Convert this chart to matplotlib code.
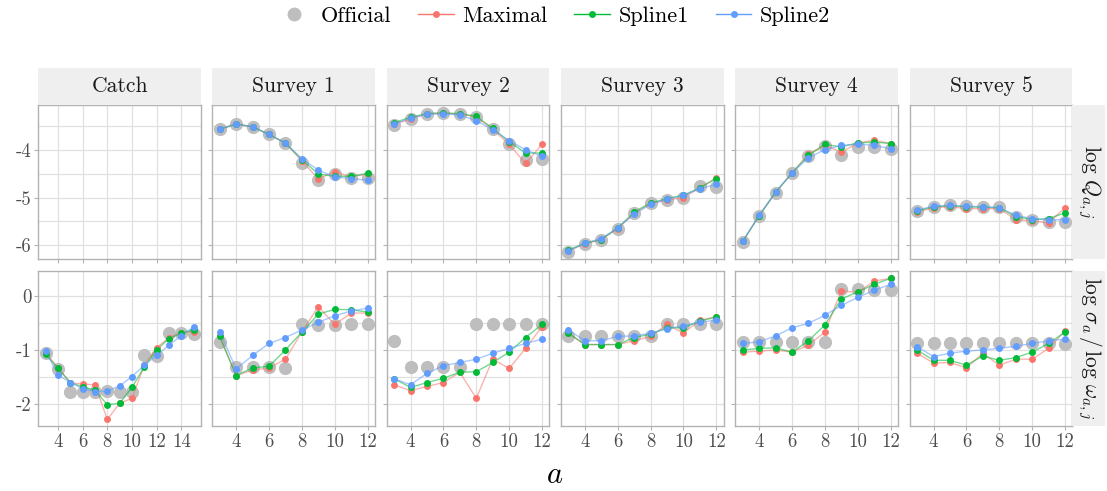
import matplotlib
matplotlib.use("Agg")
import matplotlib.pyplot as plt
from matplotlib.lines import Line2D
from matplotlib.patches import Rectangle

plt.rcParams['font.family'] = 'cmr10'
plt.rcParams['mathtext.fontset'] = 'cm'
plt.rcParams['axes.unicode_minus'] = False
plt.rcParams['axes.formatter.use_mathtext'] = True

# facets
fleets = ["Catch", "Survey 1", "Survey 2", "Survey 3", "Survey 4", "Survey 5"]
methods = ["Official", "Maximal", "Spline1", "Spline2"]
colors = {"Official": "#BEBEBE", "Maximal": "#F8766D", "Spline1": "#00BA38", "Spline2": "#619CFF"}
ages_catch = list(range(3, 16))
ages_survey = list(range(3, 13))

# log Q per survey (rows: Survey 1..5, ages 3..12)
logq_official = [
    [-3.56, -3.45, -3.51, -3.67, -3.85, -4.27, -4.63, -4.50, -4.58, -4.58],
    [-3.47, -3.35, -3.23, -3.22, -3.23, -3.30, -3.56, -3.86, -4.20, -4.18],
    [-6.14, -5.98, -5.88, -5.65, -5.33, -5.12, -5.04, -5.00, -4.76, -4.77],
    [-5.93, -5.39, -4.90, -4.48, -4.13, -3.92, -4.11, -3.94, -3.93, -3.97],
    [-5.28, -5.19, -5.16, -5.18, -5.19, -5.19, -5.40, -5.46, -5.51, -5.51],
]
logq_maximal = [
    [-3.56, -3.45, -3.51, -3.67, -3.85, -4.23, -4.60, -4.46, -4.56, -4.50],
    [-3.45, -3.35, -3.23, -3.22, -3.24, -3.30, -3.56, -3.88, -4.28, -3.88],
    [-6.12, -5.97, -5.88, -5.65, -5.33, -5.12, -5.05, -5.00, -4.79, -4.58],
    [-5.92, -5.38, -4.89, -4.48, -4.08, -3.90, -4.04, -3.85, -3.79, -3.86],
    [-5.30, -5.21, -5.19, -5.23, -5.23, -5.23, -5.46, -5.49, -5.53, -5.21],
]
logq_spline1 = [
    [-3.56, -3.45, -3.51, -3.67, -3.85, -4.20, -4.50, -4.55, -4.55, -4.49],
    [-3.42, -3.31, -3.23, -3.22, -3.23, -3.29, -3.54, -3.82, -4.06, -4.06],
    [-6.10, -5.96, -5.88, -5.64, -5.30, -5.11, -5.02, -4.95, -4.79, -4.60],
    [-5.92, -5.38, -4.89, -4.48, -4.11, -3.88, -3.93, -3.85, -3.83, -3.86],
    [-5.28, -5.19, -5.17, -5.19, -5.20, -5.21, -5.40, -5.46, -5.44, -5.32],
]
logq_spline2 = [
    [-3.56, -3.45, -3.51, -3.67, -3.85, -4.18, -4.42, -4.56, -4.60, -4.63],
    [-3.45, -3.33, -3.24, -3.24, -3.26, -3.38, -3.57, -3.80, -3.99, -4.13],
    [-6.12, -5.96, -5.86, -5.63, -5.35, -5.14, -5.03, -4.95, -4.81, -4.72],
    [-5.92, -5.37, -4.88, -4.48, -4.16, -3.99, -3.90, -3.87, -3.90, -3.97],
    [-5.26, -5.18, -5.16, -5.18, -5.19, -5.21, -5.37, -5.44, -5.47, -5.46],
]

# log sd: catch (ages 3..15)
sd_catch_official = [-1.06, -1.35, -1.78, -1.78, -1.78, -1.76, -1.78, -1.78, -1.09, -1.11, -0.69, -0.69, -0.71]
sd_catch_maximal = [-1.05, -1.33, -1.60, -1.63, -1.64, -2.28, -1.98, -1.89, -1.28, -0.96, -0.77, -0.68, -0.66]
sd_catch_spline1 = [-1.08, -1.34, -1.60, -1.68, -1.74, -2.01, -1.98, -1.69, -1.31, -1.00, -0.79, -0.69, -0.63]
sd_catch_spline2 = [-1.02, -1.46, -1.60, -1.71, -1.77, -1.76, -1.66, -1.49, -1.28, -1.10, -0.91, -0.74, -0.57]

# log sd: surveys (rows: Survey 1..5, ages 3..12)
sd_official = [
    [-0.85, -1.31, -1.31, -1.31, -1.33, -0.53, -0.54, -0.54, -0.53, -0.53],
    [-0.83, -1.31, -1.31, -1.31, -1.31, -0.53, -0.53, -0.53, -0.53, -0.53],
    [-0.75, -0.74, -0.74, -0.74, -0.74, -0.74, -0.53, -0.53, -0.53, -0.53],
    [-0.85, -0.85, -0.86, -0.86, -0.86, -0.86, 0.12, 0.12, 0.10, 0.10],
    [-0.88, -0.88, -0.88, -0.88, -0.88, -0.88, -0.88, -0.88, -0.88, -0.89],
]
sd_maximal = [
    [-0.75, -1.47, -1.37, -1.33, -1.17, -0.67, -0.20, -0.53, -0.32, -0.32],
    [-1.64, -1.75, -1.67, -1.60, -1.41, -1.89, -1.17, -1.34, -0.97, -0.57],
    [-0.69, -0.90, -0.90, -0.90, -0.83, -0.75, -0.53, -0.69, -0.45, -0.39],
    [-1.04, -1.02, -1.00, -1.04, -0.91, -0.67, 0.09, 0.06, 0.27, 0.32],
    [-1.06, -1.24, -1.23, -1.33, -1.06, -1.28, -1.17, -1.17, -0.97, -0.65],
]
sd_spline1 = [
    [-0.75, -1.47, -1.33, -1.30, -1.00, -0.67, -0.34, -0.25, -0.26, -0.30],
    [-1.53, -1.69, -1.60, -1.52, -1.41, -1.40, -1.23, -1.04, -0.77, -0.53],
    [-0.69, -0.90, -0.90, -0.90, -0.77, -0.71, -0.59, -0.59, -0.47, -0.39],
    [-1.00, -0.97, -0.96, -1.04, -0.83, -0.54, -0.06, 0.07, 0.21, 0.32],
    [-1.00, -1.19, -1.19, -1.28, -1.11, -1.19, -1.14, -1.04, -0.88, -0.67],
]
sd_spline2 = [
    [-0.66, -1.35, -1.10, -0.88, -0.77, -0.63, -0.49, -0.37, -0.28, -0.23],
    [-1.53, -1.64, -1.43, -1.29, -1.23, -1.17, -1.06, -0.97, -0.88, -0.80],
    [-0.63, -0.83, -0.83, -0.75, -0.74, -0.69, -0.61, -0.55, -0.49, -0.45],
    [-0.88, -0.85, -0.74, -0.59, -0.51, -0.36, -0.18, -0.03, 0.10, 0.21],
    [-0.94, -1.12, -1.06, -1.02, -1.00, -0.97, -0.93, -0.88, -0.83, -0.80],
]

W, H = 1107, 491
fig = plt.figure(figsize=(W / 100, H / 100), dpi=100)

def fr(x0, y0, x1, y1):
    return [x0 / W, 1 - y1 / H, (x1 - x0) / W, (y1 - y0) / H]

col_left = [38.3, 212.3, 386.7, 561.0, 735.3, 909.7]
pw = 162.7
row_top = [(105, 259), (271, 426)]
border = "#B3B3B3"
grid_c = "#E0E0E0"
strip_c = "#EFEFEF"

def style(ax, xlim, ylim, xt, yt, ym):
    ax.set_xlim(*xlim)
    ax.set_ylim(*ylim)
    ax.set_xticks(xt)
    ax.set_yticks(yt)
    ax.set_yticks(ym, minor=True)
    ax.grid(True, which="major", color=grid_c, lw=0.9)
    ax.grid(True, which="minor", axis="y", color=grid_c, lw=0.9)
    ax.set_axisbelow(True)
    for s in ax.spines.values():
        s.set_color(border)
        s.set_linewidth(1.0)
    ax.tick_params(which="both", color=border, length=3, width=0.8, labelcolor="#4D4D4D", labelsize=13.5, pad=2)
    ax.tick_params(which="minor", length=0)

def draw(ax, ages, series):
    ax.plot(ages, series[0], "o", color=colors["Official"], ms=9.5, mew=0, zorder=2)
    for m, vals in zip(methods[1:], series[1:]):
        ax.plot(ages, vals, "-", color=colors[m], lw=1.0, alpha=0.55, zorder=3)
        ax.plot(ages, vals, "o", color=colors[m], ms=5, mew=0, zorder=4)

for c, name in enumerate(fleets):
    x0 = col_left[c]
    if c == 0:
        ages = ages_catch
        xlim = (2.4, 15.6)
        xt = [4, 6, 8, 10, 12, 14]
    else:
        ages = ages_survey
        xlim = (2.55, 12.45)
        xt = [4, 6, 8, 10, 12]
    # strip
    fig.add_artist(Rectangle((x0 / W, 1 - 104 / H), pw / W, 36 / H, transform=fig.transFigure,
                             facecolor=strip_c, edgecolor="none"))
    fig.text((x0 + pw / 2) / W, 1 - 86 / H, name, ha="center", va="center", fontsize=15.5, color="#1A1A1A")

    # top row: log Q
    ax = fig.add_axes(fr(x0, row_top[0][0], x0 + pw, row_top[0][1]))
    style(ax, xlim, (-6.29, -3.05), xt, [-6, -5, -4], [-5.5, -4.5, -3.5])
    if c > 0:
        i = c - 1
        draw(ax, ages, [logq_official[i], logq_maximal[i], logq_spline1[i], logq_spline2[i]])
    ax.set_xticklabels([])
    if c == 0:
        ax.set_yticklabels(["-6", "-5", "-4"])
    else:
        ax.set_yticklabels([])

    # bottom row: log sd
    ax = fig.add_axes(fr(x0, row_top[1][0], x0 + pw, row_top[1][1]))
    style(ax, xlim, (-2.40, 0.455), xt, [-2, -1, 0], [-1.5, -0.5])
    if c == 0:
        draw(ax, ages, [sd_catch_official, sd_catch_maximal, sd_catch_spline1, sd_catch_spline2])
        ax.set_yticklabels(["-2", "-1", "0"])
    else:
        i = c - 1
        draw(ax, ages, [sd_official[i], sd_maximal[i], sd_spline1[i], sd_spline2[i]])
        ax.set_yticklabels([])
    ax.set_xticklabels([str(t) for t in xt])

# right strips
sx0 = col_left[-1] + pw
for (y0, y1), lab in zip(row_top, [r"$\log\,Q_{a,j}$", r"$\log\,\sigma_a\,/\,\log\,\omega_{a,j}$"]):
    fig.add_artist(Rectangle((sx0 / W, 1 - y1 / H), 33 / W, (y1 - y0) / H, transform=fig.transFigure,
                             facecolor=strip_c, edgecolor="none"))
    fig.text((sx0 + 17) / W, 1 - (y0 + y1) / 2 / H, lab, rotation=270, ha="center", va="center",
             fontsize=15.5, color="#1A1A1A")

fig.text(555 / W, 1 - 475 / H, r"$a$", ha="center", va="center", fontsize=22)

handles = [Line2D([], [], marker="o", ls="none", color=colors["Official"], ms=10, mew=0)]
for m in methods[1:]:
    handles.append(Line2D([], [], marker="o", ls="-", color=colors[m], ms=5, mew=0, lw=1.0))
fig.legend(handles, methods, loc="center", bbox_to_anchor=(0.5, 1 - 16 / H), ncol=4, frameon=False,
           fontsize=16, handlelength=1.6, columnspacing=1.2, handletextpad=0.4)

fig.savefig("out.png", dpi=100)
